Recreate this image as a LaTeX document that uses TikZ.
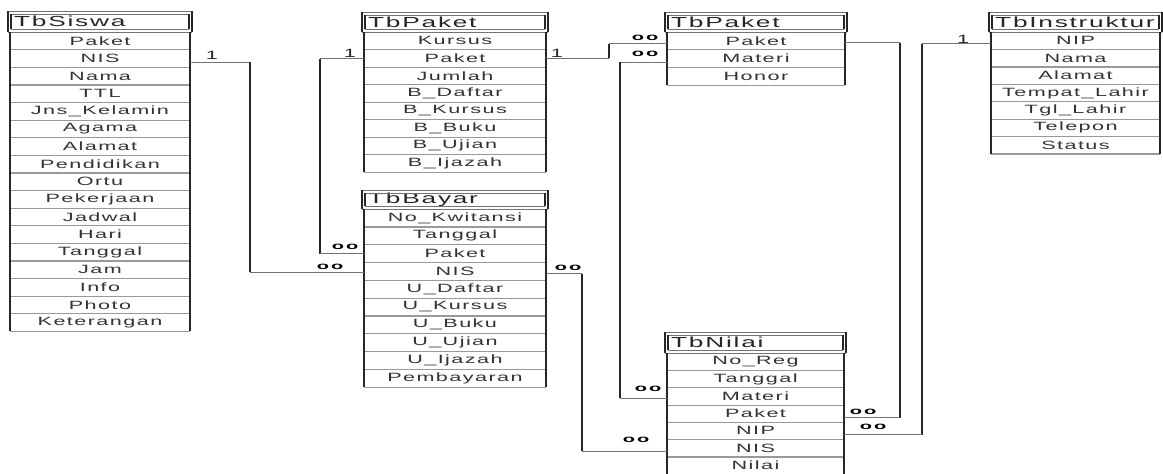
\documentclass[tikz,border=0pt]{standalone}
\usepackage{fontspec}
\newfontfamily\erdfont[FakeStretch=1.8,LetterSpace=12]{Liberation Sans}
\newfontfamily\erdmany[FakeStretch=2.0]{Liberation Sans}
\tikzset{
  vl/.style={line width=1.8pt, black!85},
  hl/.style={line width=1pt, black!55},
  sep/.style={line width=1.1pt, black!40},
  cell/.style={inner sep=0pt, font=\erdfont\fontsize{12}{12}\selectfont, text=black!80},
  hdr/.style={inner sep=0pt, anchor=west, font=\erdfont\fontsize{14.6}{15}\selectfont, text=black!85},
  card/.style={inner sep=0pt, font=\erdfont\fontsize{12}{12}\selectfont, text=black!85},
  many/.style={inner sep=0pt, font=\erdmany\bfseries\fontsize{10}{10}\selectfont, text=black},
}
% #1 prefix, #2 left, #3 right, #4 header top, #5 body top, #6 row height, #7 title, #8 rows
\newcommand\erdtable[8]{%
  \node[hdr] (#1h) at ({#2+4},{(#4+#5)/2}) {#7};
  \draw[hl] ({#2-2},#4) -- ({#3+2},#4) ({#2-2},#5) -- ({#3+2},#5);
  \draw[hl] ({#2+1},{#4+3}) -- ({#3-1},{#4+3}) ({#2+1},{#5-3}) -- ({#3-1},{#5-3});
  \draw[vl] ({#2-2},#4) -- ({#2-2},#5) ({#3+2},#4) -- ({#3+2},#5);
  \draw[vl] ({#2+1},{#4+3}) -- ({#2+1},{#5-3}) ({#3-1},{#4+3}) -- ({#3-1},{#5-3});
  \foreach \r [count=\i] in {#8} {
    \node[cell, minimum width={(#3-#2)*1pt}, minimum height={#6*1pt}] (#1\i) at ({(#2+#3)/2},{#5+(\i-0.5)*#6}) {\r};
    \draw[sep] (#1\i.south west) -- (#1\i.south east);
    \draw[vl] (#1\i.north west) -- (#1\i.south west) (#1\i.north east) -- (#1\i.south east);
  }
}
\begin{document}
\begin{tikzpicture}[x=1pt,y=-1pt]
\fill[white] (0,0) rectangle (1163,474);
\useasboundingbox (0,0) rectangle (1163,474);

\erdtable{s}{10}{190}{11}{32}{17.6}{TbSiswa}{Paket,NIS,Nama,TTL,Jns\_Kelamin,Agama,Alamat,Pendidikan,Ortu,Pekerjaan,Jadwal,Hari,Tanggal,Jam,Info,Photo,Keterangan}
\erdtable{pa}{364}{546}{12}{32}{17.5}{TbPaket}{Kursus,Paket,Jumlah,B\_Daftar,B\_Kursus,B\_Buku,B\_Ujian,B\_Ijazah}
\erdtable{b}{364}{546}{190}{209}{17.8}{TbBayar}{No\_Kwitansi,Tanggal,Paket,NIS,U\_Daftar,U\_Kursus,U\_Buku,U\_Ujian,U\_Ijazah,Pembayaran}
\erdtable{pb}{667}{845}{12}{32}{17.7}{TbPaket}{Paket,Materi,Honor}
\erdtable{in}{991}{1160}{12}{32}{17.4}{TbInstruktur}{NIP,Nama,Alamat,Tempat\_Lahir,Tgl\_Lahir,Telepon,Status}
\erdtable{n}{667}{844}{332}{353}{17.3}{TbNilai}{No\_Reg,Tanggal,Materi,Paket,NIP,NIS,Nilai}

% trunk positions
\coordinate (tA) at (250,0);
\coordinate (tB) at (320,0);
\coordinate (tC) at (609,0);
\coordinate (tD) at (620,0);
\coordinate (tE) at (582,0);
\coordinate (tF) at (900,0);
\coordinate (tG) at (922,0);

% connector end points
\coordinate (c1a) at ([yshift=-3.6pt]s2.east);
\coordinate (c1b) at ([yshift=-0.7pt]b4.west);
\coordinate (c2a) at ([yshift=-0.7pt]pa2.west);
\coordinate (c2b) at (b3.west);
\coordinate (c3a) at (pa2.east);
\coordinate (c3b) at ([yshift=-3pt]pb1.west);
\coordinate (c4a) at ([yshift=-3.5pt]pb2.west);
\coordinate (c4b) at ([yshift=-2pt]n3.west);
\coordinate (c5a) at ([yshift=-2.5pt]b4.east);
\coordinate (c5b) at ([yshift=-3pt]n6.west);
\coordinate (c6a) at ([yshift=-2pt]pb1.east);
\coordinate (c6b) at ([yshift=-4pt]n4.east);
\coordinate (c7a) at ([yshift=-3pt]in1.west);
\coordinate (c7b) at ([yshift=-4pt]n5.east);

% TbSiswa.NIS -- TbBayar.NIS
\draw[hl] (c1a) -- (c1a -| tA);
\draw[vl] (c1a -| tA) -- (c1b -| tA);
\draw[hl] (c1b -| tA) -- (c1b);
% TbPaket.Paket -- TbBayar.Paket
\draw[hl] (c2a) -- (c2a -| tB);
\draw[vl] (c2a -| tB) -- (c2b -| tB);
\draw[hl] (c2b -| tB) -- (c2b);
% TbPaket.Paket -- TbPaket(2).Paket
\draw[hl] (c3a) -- (c3a -| tC);
\draw[vl] (c3a -| tC) -- (c3b -| tC);
\draw[hl] (c3b -| tC) -- (c3b);
% TbPaket(2).Materi -- TbNilai.Materi
\draw[hl] (c4a) -- (c4a -| tD);
\draw[vl] (c4a -| tD) -- (c4b -| tD);
\draw[hl] (c4b -| tD) -- (c4b);
% TbBayar.NIS -- TbNilai.NIS
\draw[hl] (c5a) -- (c5a -| tE);
\draw[vl] (c5a -| tE) -- (c5b -| tE);
\draw[hl] (c5b -| tE) -- (c5b);
% TbPaket(2).Paket -- TbNilai.Paket
\draw[hl] (c6a) -- (c6a -| tF);
\draw[vl] (c6a -| tF) -- (c6b -| tF);
\draw[hl] (c6b -| tF) -- (c6b);
% TbInstruktur.NIP -- TbNilai.NIP
\draw[hl] (c7a) -- (c7a -| tG);
\draw[vl] (c7a -| tG) -- (c7b -| tG);
\draw[hl] (c7b -| tG) -- (c7b);

% cardinality labels
\node[card] (k1) at (212,55) {1};
\node[card] (k2) at (350,53) {1};
\node[card] (k3) at (557,53) {1};
\node[card] (k4) at (963,39) {1};
\node[many] (m1) at (330,267) {o\kern2pt o};
\node[many] (m2) at (345,247) {o\kern2pt o};
\node[many] (m3) at (645,38) {o\kern2pt o};
\node[many] (m4) at (645,54) {o\kern2pt o};
\node[many] (m5) at (648,389) {o\kern2pt o};
\node[many] (m6) at (568,268) {o\kern2pt o};
\node[many] (m7) at (636,440) {o\kern2pt o};
\node[many] (m8) at (863,412) {o\kern2pt o};
\node[many] (m9) at (873,427) {o\kern2pt o};
\end{tikzpicture}
\end{document}
